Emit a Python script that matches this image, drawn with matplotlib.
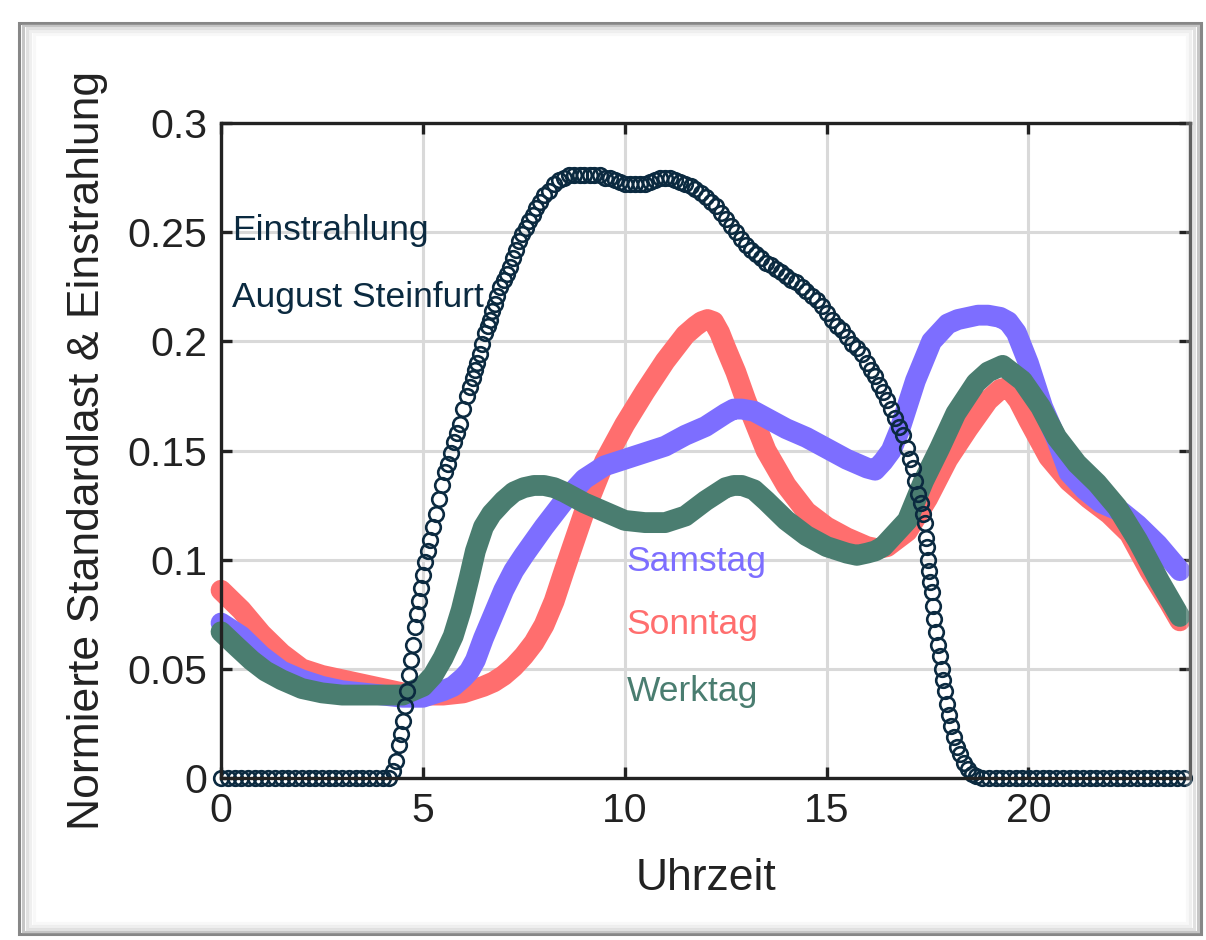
import numpy as np
import matplotlib
matplotlib.use("Agg")
import matplotlib.pyplot as plt
from matplotlib.patches import Rectangle

plt.rcParams['font.family'] = ['Liberation Sans', 'DejaVu Sans']

# ---------------- data ----------------
# load profiles (hour, value)
sonntag_h = [0, 0.5, 1, 1.5, 2, 2.5, 3, 3.5, 4, 4.5, 5, 5.5, 6, 6.5, 6.75, 7, 7.25, 7.5, 7.75, 8,
             8.25, 8.5, 9, 9.5, 10, 10.5, 11, 11.5, 11.75, 11.9, 12.05, 12.2, 12.35, 12.5, 12.75,
             13, 13.5, 14, 14.5, 15, 15.5, 16, 16.25, 16.5, 17, 17.5, 18, 18.5, 19, 19.3, 19.5,
             19.75, 20, 20.5, 21, 21.5, 22, 22.5, 23, 23.5, 23.75]
sonntag_v = [0.086, 0.077, 0.066, 0.057, 0.050, 0.047, 0.045, 0.043, 0.041, 0.039, 0.038, 0.038,
             0.039, 0.042, 0.044, 0.047, 0.051, 0.056, 0.062, 0.070, 0.081, 0.095, 0.122, 0.145,
             0.162, 0.177, 0.191, 0.203, 0.207, 0.209, 0.210, 0.209, 0.204, 0.197, 0.186, 0.173,
             0.150, 0.134, 0.122, 0.115, 0.110, 0.106, 0.105, 0.106, 0.113, 0.128, 0.146, 0.160,
             0.173, 0.178, 0.179, 0.173, 0.164, 0.147, 0.136, 0.128, 0.121, 0.112, 0.095, 0.080, 0.072]

samstag_h = [0, 0.5, 1, 1.5, 2, 2.5, 3, 3.5, 4, 4.5, 5, 5.5, 5.75, 6, 6.15, 6.3, 6.5, 6.75, 7, 7.25,
             7.5, 8, 8.5, 9, 9.5, 10, 10.5, 11, 11.5, 12, 12.5, 12.7, 12.9, 13.2, 13.5, 14, 14.5, 15,
             15.5, 16, 16.2, 16.4, 16.6, 16.8, 17.2, 17.6, 18, 18.25, 18.5, 18.75, 19, 19.3, 19.5,
             19.7, 20, 20.35, 20.7, 21, 21.4, 21.8, 22.3, 22.7, 23.2, 23.75]
samstag_v = [0.071, 0.065, 0.056, 0.049, 0.045, 0.042, 0.040, 0.039, 0.038, 0.037, 0.037, 0.040,
             0.042, 0.046, 0.049, 0.054, 0.064, 0.075, 0.086, 0.095, 0.102, 0.115, 0.127, 0.137,
             0.143, 0.146, 0.149, 0.152, 0.157, 0.161, 0.167, 0.169, 0.169, 0.168, 0.165, 0.160,
             0.156, 0.151, 0.146, 0.142, 0.141, 0.145, 0.150, 0.159, 0.182, 0.200, 0.208, 0.210,
             0.211, 0.212, 0.212, 0.211, 0.209, 0.204, 0.190, 0.170, 0.155, 0.140, 0.132, 0.126,
             0.122, 0.116, 0.107, 0.095]

werktag_h = [0, 0.4, 0.75, 1.1, 1.5, 2, 2.5, 3, 3.5, 4, 4.5, 5, 5.25, 5.5, 5.75, 5.95, 6.15, 6.3,
             6.5, 6.7, 7, 7.25, 7.5, 7.75, 8, 8.25, 8.5, 9, 9.5, 10, 10.5, 11, 11.5, 12, 12.25,
             12.5, 12.7, 12.9, 13.2, 13.5, 14, 14.5, 15, 15.5, 15.75, 16, 16.2, 16.4, 17, 17.4,
             17.8, 18.2, 18.7, 19.0, 19.36, 19.85, 20.3, 20.7, 21.2, 21.7, 22.2, 22.7, 23.25, 23.75]
werktag_v = [0.067, 0.060, 0.054, 0.049, 0.045, 0.041, 0.039, 0.038, 0.038, 0.038, 0.038, 0.042,
             0.047, 0.055, 0.065, 0.077, 0.092, 0.104, 0.115, 0.121, 0.127, 0.131, 0.133, 0.134,
             0.134, 0.133, 0.131, 0.126, 0.122, 0.118, 0.117, 0.117, 0.120, 0.127, 0.130, 0.133,
             0.134, 0.134, 0.132, 0.127, 0.118, 0.111, 0.106, 0.103, 0.102, 0.103, 0.104, 0.106,
             0.118, 0.136, 0.151, 0.167, 0.181, 0.186, 0.189, 0.182, 0.170, 0.156, 0.144, 0.135,
             0.124, 0.109, 0.090, 0.074]

# irradiance August Steinfurt (hour, value); night hours are zero
irr_zero_morning = np.arange(0, 4.2, 1 / 6)
irr_zero_evening = np.arange(18.85, 24.01, 1 / 6)
irr_day_h = [4.25, 4.33, 4.40, 4.45, 4.50, 4.55, 4.60, 4.65, 4.70, 4.75, 4.80, 4.85, 4.90, 4.95,
             5.00, 5.06, 5.12, 5.18, 5.25, 5.32, 5.40, 5.47, 5.55, 5.62, 5.70, 5.77, 5.85, 5.92,
             6.00, 6.08, 6.16, 6.23, 6.29, 6.35, 6.41, 6.47, 6.53, 6.60, 6.66, 6.72, 6.78, 6.84,
             6.90, 7.00, 7.08, 7.15, 7.22, 7.30, 7.38, 7.46, 7.55, 7.63, 7.72, 7.80, 7.90, 8.00,
             8.12, 8.25, 8.38, 8.50, 8.63, 8.75, 8.88, 9.00, 9.13, 9.25, 9.38, 9.50, 9.63, 9.75,
             9.88, 10.00, 10.13, 10.25, 10.38, 10.50, 10.63, 10.75, 10.88, 11.00, 11.13, 11.25,
             11.38, 11.50, 11.63, 11.75, 11.88, 12.00, 12.13, 12.25, 12.38, 12.50, 12.63, 12.75,
             12.88, 13.00, 13.13, 13.25, 13.38, 13.50, 13.63, 13.75, 13.88, 14.00, 14.13, 14.25,
             14.38, 14.50, 14.63, 14.75, 14.88, 15.00, 15.13, 15.25, 15.38, 15.50, 15.63, 15.75,
             15.88, 16.00, 16.10, 16.20, 16.30, 16.40, 16.50, 16.60, 16.70, 16.80, 16.90, 17.00,
             17.07, 17.13, 17.20, 17.27, 17.33, 17.38, 17.43, 17.47, 17.48, 17.50, 17.53, 17.56,
             17.60, 17.63, 17.66, 17.70, 17.75, 17.80, 17.85, 17.88, 17.93, 17.98, 18.02, 18.08,
             18.15, 18.22, 18.30, 18.40, 18.50, 18.60, 18.70]
irr_day_v = [0.003, 0.008, 0.015, 0.020, 0.026, 0.033, 0.040, 0.047, 0.054, 0.061, 0.069, 0.075,
             0.081, 0.087, 0.093, 0.099, 0.104, 0.109, 0.115, 0.121, 0.128, 0.134, 0.140, 0.144,
             0.149, 0.154, 0.158, 0.162, 0.169, 0.175, 0.179, 0.183, 0.187, 0.190, 0.194, 0.199,
             0.204, 0.207, 0.210, 0.214, 0.217, 0.221, 0.225, 0.228, 0.231, 0.234, 0.238, 0.242,
             0.246, 0.249, 0.252, 0.255, 0.258, 0.261, 0.264, 0.267, 0.269, 0.272, 0.274, 0.275,
             0.276, 0.276, 0.276, 0.276, 0.276, 0.276, 0.276, 0.275, 0.275, 0.274, 0.273, 0.272,
             0.272, 0.272, 0.272, 0.272, 0.273, 0.274, 0.275, 0.275, 0.275, 0.274, 0.273, 0.272,
             0.271, 0.270, 0.268, 0.266, 0.264, 0.262, 0.259, 0.256, 0.253, 0.250, 0.247, 0.244,
             0.242, 0.240, 0.238, 0.236, 0.235, 0.233, 0.232, 0.230, 0.228, 0.227, 0.225, 0.223,
             0.221, 0.219, 0.216, 0.213, 0.210, 0.207, 0.205, 0.202, 0.199, 0.197, 0.194, 0.190,
             0.187, 0.184, 0.180, 0.177, 0.173, 0.169, 0.165, 0.161, 0.157, 0.151, 0.146, 0.142,
             0.136, 0.130, 0.126, 0.121, 0.117, 0.110, 0.106, 0.100, 0.095, 0.090, 0.085, 0.079,
             0.073, 0.067, 0.061, 0.056, 0.050, 0.045, 0.040, 0.034, 0.029, 0.024, 0.019, 0.014,
             0.011, 0.007, 0.004, 0.002, 0.001]

x_ticks = [0, 5, 10, 15, 20]
y_ticks = [0, 0.05, 0.1, 0.15, 0.2, 0.25, 0.3]
y_ticklabels = ['0', '0.05', '0.1', '0.15', '0.2', '0.25', '0.3']

c_sam = '#7d6eff'
c_son = '#ff6e6e'
c_wer = '#4a7d70'
c_irr = '#0b2a40'
c_axis = '#222222'

# ---------------- figure ----------------
fig = plt.figure(figsize=(12.06, 9.40), dpi=100)
fig.patch.set_facecolor('white')

# paper-like frame with soft shadow
for i, (a, g) in enumerate([(0.9, '#7a7a7a'), (0.6, '#a0a0a0'), (0.45, '#bdbdbd'),
                            (0.35, '#d2d2d2'), (0.25, '#e6e6e6')]):
    d = i * 0.003
    fig.patches.append(Rectangle((0.016 + d, 0.006 + d), 0.980 - 2 * d, 0.970 - 2 * d,
                                 transform=fig.transFigure, fill=False,
                                 edgecolor=g, lw=2.2, alpha=a, zorder=0))

ax = fig.add_axes([0.1833, 0.1723, 0.8034, 0.6968])
ax.set_xlim(0, 24)
ax.set_ylim(0, 0.3)

ax.grid(True, color='#d9d9d9', lw=2.2, zorder=0)
ax.set_axisbelow(True)

lw_band = 15
ax.plot(sonntag_h, sonntag_v, color=c_son, lw=lw_band, solid_capstyle='round',
        solid_joinstyle='round', zorder=2, clip_on=False)
ax.plot(samstag_h, samstag_v, color=c_sam, lw=lw_band, solid_capstyle='round',
        solid_joinstyle='round', zorder=3, clip_on=False)
ax.plot(werktag_h, werktag_v, color=c_wer, lw=lw_band, solid_capstyle='round',
        solid_joinstyle='round', zorder=4, clip_on=False)

irr_h = np.concatenate([irr_zero_morning, irr_day_h, irr_zero_evening])
irr_v = np.concatenate([np.zeros(len(irr_zero_morning)), irr_day_v, np.zeros(len(irr_zero_evening))])
ax.plot(irr_h, irr_v, ls='none', marker='o', ms=10.5, mfc='none', mec=c_irr, mew=1.9,
        zorder=5, clip_on=False)

# annotations
fs_lab = 25.5
ax.text(0.28, 0.2463, 'Einstrahlung', color=c_irr, fontsize=fs_lab, va='baseline', ha='left', zorder=6)
ax.text(0.28, 0.2156, 'August Steinfurt', color=c_irr, fontsize=fs_lab, va='baseline', ha='left', zorder=6)
ax.text(10.05, 0.095, 'Samstag', color=c_sam, fontsize=fs_lab, va='baseline', ha='left', zorder=6)
ax.text(10.05, 0.066, 'Sonntag', color=c_son, fontsize=fs_lab, va='baseline', ha='left', zorder=6)
ax.text(10.05, 0.0353, 'Werktag', color=c_wer, fontsize=fs_lab, va='baseline', ha='left', zorder=6)

# axes styling
for s in ax.spines.values():
    s.set_color(c_axis)
    s.set_linewidth(2.4)
    s.set_zorder(6)
ax.set_xticks(x_ticks)
ax.set_yticks(y_ticks)
ax.set_yticklabels(y_ticklabels)
ax.tick_params(direction='in', length=8, width=2.4, color=c_axis, labelsize=29.5,
               labelcolor='#222222', top=True, right=True, pad=10)
ax.set_xlabel('Uhrzeit', fontsize=32, color='#222222', labelpad=20)
ax.set_ylabel('Normierte Standardlast & Einstrahlung', fontsize=32, color='#222222', labelpad=14)

fig.savefig('out.png', dpi=100, facecolor='white')
